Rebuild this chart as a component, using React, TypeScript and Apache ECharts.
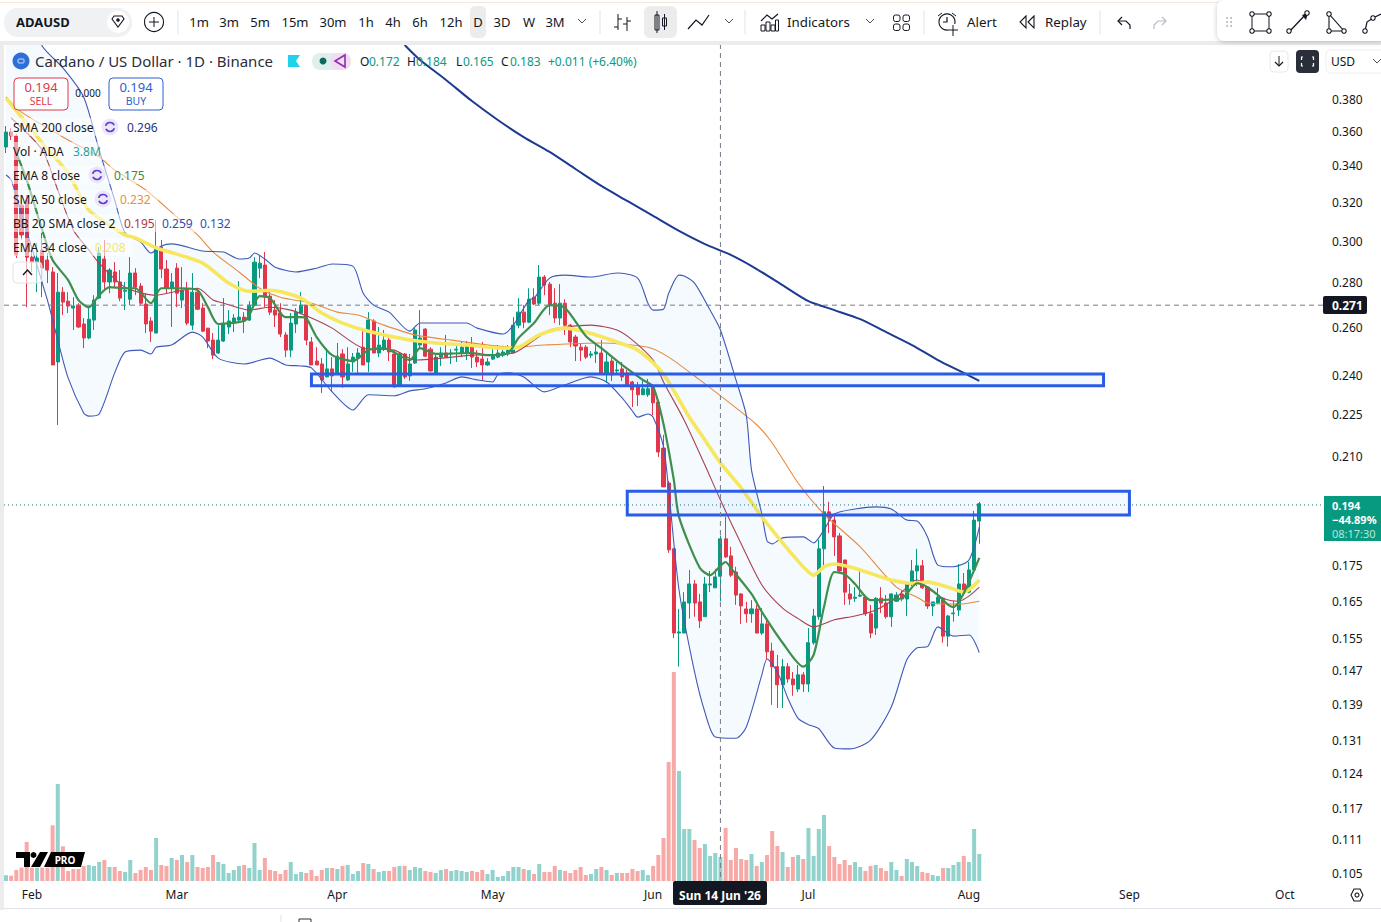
import React, { useEffect, useRef } from "react";
import * as echarts from "echarts";

const FONT = '"Noto Sans", sans-serif';
const DAY_SLOTS = 254;

// [open, high, low, close] per day
const ohlcJanFeb = [
  [.3509,.3633,.3474,.3597],[.3597,.3621,.3550,.3574],[.3574,.3585,.2918,.2932],[.3186,.3213,.3007,.3032],[.3213,.3240,.2689,.2922],
  [.2922,.2957,.2850,.2898],[.2898,.2992,.2757,.2918],[.2957,.3042,.2734,.2870],[.2908,.2942,.2799,.2860],[.2851,.2874,.2443,.2443],
  [.2455,.2846,.2211,.2757],[.2757,.2780,.2654,.2712],[.2716,.2757,.2663,.2694],[.2685,.2734,.2589,.2694],[.2698,.2707,.2598,.2602],
  [.2615,.2641,.2512,.2555],[.2555,.2685,.2550,.2636],[.2632,.2743,.2589,.2721],[.2730,.2972,.2725,.2942],[.2913,.3007,.2766,.2804],
  [.2804,.2869,.2752,.2860],[.2851,.2898,.2780,.2804],[.2804,.2860,.2716,.2730],[.2761,.2804,.2676,.2766],[.2725,.2922,.2698,.2846],
  [.2846,.2869,.2743,.2780],[.2785,.2799,.2698,.2707],[.2703,.2752,.2576,.2615],[.2628,.2645,.2538,.2584],[.2576,.3108,.2576,.2972],
  [.2972,.3007,.2822,.2865],[.2865,.2908,.2752,.2775],[.2775,.2846,.2602,.2804],
];
const ohlcMar = [
  [.2869,.2893,.2689,.2752],[.2721,.2874,.2685,.2766],[.2766,.2804,.2610,.2619],[.2610,.2846,.2589,.2757],[.2757,.2775,.2676,.2680],
  [.2685,.2707,.2580,.2584],[.2597,.2597,.2512,.2542],[.2546,.2576,.2467,.2483],[.2492,.2610,.2488,.2546],[.2542,.2730,.2538,.2619],
  [.2602,.2676,.2572,.2628],[.2619,.2658,.2580,.2641],[.2632,.2808,.2628,.2645],[.2645,.2667,.2576,.2628],[.2632,.2716,.2628,.2698],
  [.2698,.2922,.2694,.2898],[.2869,.2932,.2822,.2893],[.2884,.2947,.2689,.2734],[.2739,.2757,.2654,.2667],[.2676,.2721,.2602,.2654],
  [.2663,.2707,.2559,.2572],[.2568,.2580,.2475,.2504],[.2504,.2663,.2475,.2619],[.2615,.2685,.2576,.2667],[.2663,.2757,.2658,.2698],
  [.2698,.2698,.2525,.2546],[.2538,.2559,.2443,.2443],[.2459,.2516,.2443,.2443],[.2447,.2471,.2332,.2383],[.2395,.2512,.2395,.2427],
  [.2427,.2475,.2336,.2399],
];
const ohlcApr = [
  [.2411,.2534,.2403,.2479],[.2488,.2508,.2352,.2395],[.2383,.2516,.2379,.2447],[.2455,.2492,.2415,.2475],[.2471,.2512,.2403,.2492],
  [.2516,.2597,.2443,.2443],[.2455,.2667,.2415,.2632],[.2628,.2636,.2492,.2492],[.2492,.2602,.2475,.2525],[.2512,.2589,.2500,.2546],
  [.2546,.2555,.2459,.2496],[.2488,.2504,.2352,.2356],[.2360,.2492,.2356,.2488],[.2488,.2492,.2387,.2395],[.2399,.2488,.2379,.2447],
  [.2451,.2597,.2447,.2589],[.2525,.2676,.2512,.2555],[.2593,.2597,.2475,.2479],[.2508,.2516,.2415,.2419],[.2411,.2492,.2407,.2475],
  [.2475,.2516,.2439,.2492],[.2492,.2568,.2475,.2475],[.2488,.2508,.2447,.2492],[.2504,.2529,.2455,.2508],[.2492,.2538,.2475,.2516],
  [.2492,.2542,.2463,.2525],[.2525,.2559,.2431,.2475],[.2475,.2504,.2435,.2455],[.2467,.2538,.2379,.2443],[.2443,.2471,.2439,.2455],
];
const ohlcMay = [
  [.2467,.2508,.2463,.2479],[.2475,.2525,.2471,.2492],[.2483,.2516,.2475,.2496],[.2488,.2525,.2479,.2504],[.2492,.2645,.2492,.2610],
  [.2610,.2730,.2597,.2667],[.2667,.2698,.2597,.2623],[.2623,.2775,.2619,.2725],[.2734,.2775,.2698,.2703],[.2707,.2884,.2698,.2827],
  [.2827,.2836,.2743,.2789],[.2794,.2804,.2654,.2698],[.2707,.2775,.2619,.2641],[.2641,.2794,.2610,.2707],[.2707,.2725,.2568,.2610],
  [.2610,.2615,.2516,.2538],[.2559,.2568,.2459,.2521],[.2516,.2534,.2459,.2504],[.2516,.2525,.2467,.2475],[.2483,.2500,.2471,.2488],
  [.2488,.2525,.2451,.2496],[.2492,.2546,.2411,.2411],[.2411,.2492,.2371,.2455],[.2459,.2471,.2379,.2403],[.2419,.2455,.2403,.2423],
  [.2427,.2455,.2379,.2395],[.2411,.2423,.2360,.2364],[.2375,.2379,.2278,.2344],[.2360,.2375,.2282,.2325],[.2325,.2379,.2325,.2348],
  [.2325,.2387,.2317,.2348],
];
const ohlcJun = [
  [.2360,.2367,.2248,.2294],[.2297,.2305,.2097,.2114],[.2128,.2175,.1995,.1995],[.2008,.2015,.1788,.1797],[.1800,.1803,.1552,.1565],
  [.1565,.1629,.1480,.1568],[.1565,.1675,.1565,.1648],[.1645,.1738,.1603,.1698],[.1698,.1709,.1608,.1645],[.1648,.1670,.1578,.1597],
  [.1608,.1718,.1608,.1698],[.1695,.1735,.1675,.1698],[.1687,.1741,.1687,.1718],[.1720,.1840,.1650,.1830],[.1830,.1898,.1773,.1776],
  [.1779,.1806,.1718,.1723],[.1732,.1747,.1640,.1667],[.1670,.1672,.1589,.1637],[.1629,.1648,.1592,.1616],[.1616,.1653,.1592,.1629],
  [.1629,.1640,.1565,.1565],[.1565,.1631,.1560,.1589],[.1589,.1600,.1499,.1517],[.1519,.1540,.1389,.1480],[.1480,.1509,.1382,.1436],
  [.1436,.1499,.1382,.1480],[.1480,.1489,.1441,.1450],[.1450,.1467,.1410,.1436],[.1426,.1484,.1419,.1460],[.1460,.1467,.1419,.1438],
];
const ohlcJul = [
  [.1438,.1578,.1419,.1540],[.1540,.1629,.1535,.1610],[.1608,.1827,.1600,.1800],[.1800,.1998,.1750,.1914],[.1914,.1946,.1848,.1894],
  [.1888,.1904,.1779,.1836],[.1839,.1848,.1732,.1735],[.1767,.1767,.1640,.1675],[.1670,.1698,.1640,.1656],[.1658,.1689,.1648,.1661],
  [.1664,.1735,.1661,.1667],[.1661,.1661,.1610,.1616],[.1616,.1640,.1552,.1565],[.1578,.1661,.1560,.1658],[.1658,.1689,.1618,.1645],
  [.1645,.1667,.1603,.1608],[.1608,.1672,.1581,.1670],[.1650,.1675,.1648,.1667],[.1670,.1681,.1650,.1656],[.1656,.1703,.1610,.1698],
  [.1698,.1767,.1692,.1735],[.1735,.1800,.1692,.1750],[.1750,.1767,.1684,.1687],[.1689,.1692,.1629,.1637],[.1637,.1648,.1610,.1648],
  [.1645,.1687,.1642,.1661],[.1658,.1661,.1540,.1557],[.1557,.1613,.1530,.1610],[.1616,.1651,.1595,.1618],[.1626,.1755,.1610,.1698],
  [.1698,.1729,.1672,.1675],
];
const ohlcAug = [[.1675,.1761,.1672,.1738],[.1738,.1917,.1729,.1888],[.1885,.1946,.1815,.1940]];
const ohlc = [...ohlcJanFeb, ...ohlcMar, ...ohlcApr, ...ohlcMay, ...ohlcJun, ...ohlcJul, ...ohlcAug];

// volume, relative bar heights as read (81 = 3.8M)
const volumes = [
  17,16,33,40,117,40,40,40,40,167,291,104,30,36,36,45,48,45,57,63,42,42,30,27,63,24,33,42,33,129,48,45,69,63,78,57,78,42,39,42,78,57,51,24,33,45,48,39,114,33,
  69,33,30,21,33,57,21,27,24,33,15,33,39,39,36,45,48,21,30,54,51,36,27,30,30,42,45,45,33,42,39,30,27,24,33,36,30,33,30,27,30,27,33,21,33,12,15,30,42,42,
  36,33,21,51,27,27,45,33,30,24,33,42,18,21,36,42,33,18,24,24,24,36,30,33,18,45,78,129,357,627,330,156,156,123,99,111,75,84,72,159,63,99,66,63,81,45,57,78,150,105,
  87,42,72,78,66,159,75,156,198,105,72,51,63,48,57,42,30,45,48,39,30,57,33,15,66,57,45,27,24,18,15,39,39,48,57,75,57,156,81,
];
const fallingVolumeDays = [
  1,2,3,4,5,7,8,9,11,12,13,14,15,19,21,22,25,26,27,28,30,31,33,35,37,38,39,40,46,50,51,52,53,54,58,59,60,61,63,65,69,71,74,75,77,81,82,85,90,91,92,
  100,102,104,105,106,108,109,110,111,112,115,117,119,120,121,122,125,126,127,128,129,133,134,139,140,141,142,143,145,147,148,149,151,152,154,159,160,161,162,163,166,167,169,170,173,177,178,181,185,
];

const sma200 = [[77,.4157],[80,.4054],[85,.3922],[90,.3787],[95,.3670],[100,.3567],[105,.3480],[110,.3383],[115,.3289],[120,.3208],[125,.3129],[130,.3052],[135,.2986],[140,.2933],[145,.2865],[150,.2789],[155,.2716],[160,.2676],[165,.2636],[170,.2580],[175,.2525],[180,.2463],[185,.2411],[188,.2379]];
const bbUpper = [[0,.4708],[7,.4150],[11,.4001],[15,.3813],[18,.3491],[21,.3213],[23,.3042],[26,.2997],[28,.2942],[30,.2977],[32,.2987],[38,.2952],[42,.2947],[45,.2913],[47,.2918],[48,.2942],[50,.2913],[52,.2874],[56,.2851],[60,.2869],[63,.2889],[67,.2879],[69,.2752],[71,.2698],[74,.2667],[78,.2584],[80,.2619],[89,.2619],[91,.2597],[96,.2572],[98,.2610],[101,.2721],[102,.2730],[105,.2822],[108,.2836],[113,.2827],[118,.2846],[122,.2822],[124,.2707],[125,.2676],[127,.2680],[128,.2752],[130,.2836],[131,.2832],[133,.2799],[136,.2676],[138,.2589],[141,.2383],[143,.2246],[144,.2052],[146,.1907],[147,.1824],[148,.1815],[150,.1833],[154,.1836],[156,.1818],[158,.1857],[160,.1907],[164,.1923],[168,.1930],[171,.1923],[174,.1888],[176,.1885],[178,.1836],[180,.1752],[183,.1747],[186,.1767],[188,.1866]];
const bbLower = [[0,.3349],[1,.3322],[2,.3229],[8,.2721],[10,.2546],[12,.2391],[15,.2256],[16,.2244],[18,.2252],[21,.2411],[23,.2496],[26,.2504],[28,.2488],[29,.2516],[32,.2525],[36,.2580],[38,.2559],[41,.2471],[46,.2447],[51,.2471],[54,.2443],[57,.2439],[59,.2431],[63,.2336],[67,.2267],[70,.2325],[75,.2321],[78,.2340],[81,.2348],[85,.2371],[88,.2395],[91,.2383],[94,.2375],[95,.2403],[97,.2411],[100,.2395],[104,.2336],[108,.2364],[113,.2395],[116,.2375],[119,.2313],[121,.2263],[122,.2240],[124,.2252],[125,.2240],[127,.2132],[128,.1985],[130,.1681],[133,.1467],[135,.1372],[137,.1317],[141,.1314],[143,.1339],[146,.1460],[147,.1499],[149,.1467],[151,.1405],[153,.1358],[155,.1344],[157,.1335],[160,.1293],[163,.1291],[167,.1310],[171,.1384],[174,.1497],[176,.1527],[178,.1530],[180,.1581],[183,.1557],[186,.1560],[188,.1515]];
const bbBasis = [[1,.3682],[7,.3491],[10,.3267],[13,.3057],[16,.2957],[18,.2893],[23,.2780],[29,.2743],[33,.2761],[37,.2775],[40,.2721],[42,.2707],[47,.2676],[51,.2689],[55,.2676],[59,.2641],[63,.2597],[69,.2512],[75,.2504],[79,.2463],[90,.2483],[98,.2492],[102,.2546],[105,.2589],[108,.2602],[113,.2610],[118,.2589],[121,.2546],[125,.2463],[127,.2375],[131,.2229],[135,.2069],[138,.1952],[142,.1815],[146,.1695],[150,.1631],[153,.1603],[156,.1581],[160,.1600],[164,.1610],[168,.1626],[172,.1661],[175,.1703],[176,.1709],[178,.1687],[181,.1658],[184,.1650],[186,.1664],[188,.1689]];
const ema8 = [[2,.3474],[4,.3322],[7,.3057],[9,.2908],[12,.2813],[14,.2721],[16,.2689],[18,.2743],[20,.2780],[23,.2775],[25,.2775],[28,.2707],[30,.2775],[34,.2775],[37,.2766],[39,.2689],[41,.2615],[46,.2628],[47,.2654],[49,.2739],[51,.2730],[54,.2645],[57,.2645],[58,.2641],[60,.2559],[63,.2483],[67,.2459],[70,.2504],[73,.2512],[78,.2463],[80,.2512],[83,.2488],[90,.2492],[93,.2483],[97,.2492],[99,.2555],[102,.2619],[105,.2698],[108,.2685],[112,.2563],[115,.2512],[119,.2443],[123,.2383],[125,.2356],[127,.2215],[129,.2018],[130,.1898],[134,.1744],[136,.1723],[138,.1750],[139,.1761],[140,.1744],[144,.1670],[146,.1621],[150,.1540],[154,.1480],[156,.1509],[158,.1634],[160,.1732],[162,.1726],[164,.1698],[167,.1653],[173,.1658],[176,.1700],[178,.1689],[180,.1667],[182,.1640],[183,.1634],[185,.1672],[188,.1773]];
const sma50 = [[0,.3813],[3,.3718],[12,.3550],[18,.3451],[21,.3377],[27,.3267],[33,.3124],[37,.3032],[40,.2947],[45,.2851],[49,.2775],[53,.2734],[59,.2707],[64,.2667],[68,.2654],[73,.2610],[79,.2568],[86,.2546],[98,.2516],[104,.2525],[115,.2534],[124,.2516],[128,.2475],[134,.2383],[140,.2290],[145,.2212],[148,.2146],[153,.2008],[158,.1907],[165,.1806],[172,.1689],[176,.1661],[178,.1645],[184,.1642],[188,.1650]];
const ema34 = [[0,.3806],[3,.3688],[7,.3532],[12,.3360],[16,.3160],[23,.3032],[25,.3017],[29,.2967],[31,.2952],[38,.2893],[43,.2799],[47,.2761],[51,.2766],[57,.2730],[61,.2663],[65,.2619],[70,.2584],[78,.2546],[83,.2534],[89,.2525],[96,.2512],[99,.2516],[103,.2568],[108,.2597],[112,.2580],[118,.2538],[122,.2504],[126,.2431],[128,.2375],[132,.2240],[135,.2157],[138,.2076],[142,.1992],[146,.1898],[150,.1818],[154,.1747],[156,.1723],[158,.1747],[160,.1755],[165,.1738],[171,.1709],[175,.1700],[178,.1703],[182,.1689],[185,.1675],[188,.1709]];

const zones = [[59,212,.2407,.2360],[120,217,.1981,.1904]];
const priceTicks = [.38,.36,.34,.32,.30,.28,.26,.24,.225,.21,.175,.165,.155,.147,.139,.131,.124,.117,.111,.105];
const monthLabels = ["Feb","Mar","Apr","May","Jun","Jul","Aug","Sep","Oct"];
const monthSlots = [5,33,64,94,125,155,186,217,247];
const crossPrice = 0.2698;
const crossSlot = 138;
const lastPrice = 0.1936;

const slotNames = Array.from({ length: DAY_SLOTS }, (_, i) => new Date(Date.UTC(2026, 0, 27 + i)).toISOString().slice(0, 10));
const fallingSet = new Set(fallingVolumeDays);

const INK = "#131722";
const txt = (x: number, y: number, text: string, fill = INK, size = 12, weight = "normal", align = "left", z = 20) => ({
  type: "text", x, y, z,
  style: { text, fill, font: `${weight} ${size}px ${FONT}`, textAlign: align, textVerticalAlign: "middle", align, verticalAlign: "middle" },
});
const ln = (x1: number, y1: number, x2: number, y2: number, stroke = INK, lineWidth = 1, z = 20) => ({
  type: "line", z, shape: { x1, y1, x2, y2 }, style: { stroke, lineWidth },
});
const pl = (points: number[][], stroke = INK, lineWidth = 1.2, z = 20) => ({
  type: "polyline", z, shape: { points }, style: { stroke, lineWidth, fill: "none" },
});
const box = (x: number, y: number, width: number, height: number, fill: string, stroke = "none", r = 0, z = 19, lineWidth = 1) => ({
  type: "rect", z, shape: { x, y, width, height, r }, style: { fill, stroke, lineWidth },
});
const circ = (cx: number, cy: number, r: number, fill: string, stroke = "none", z = 20, lineWidth = 1.1) => ({
  type: "circle", z, shape: { cx, cy, r }, style: { fill, stroke, lineWidth },
});
const poly = (points: number[][], fill: string, stroke = "none", z = 20, lineWidth = 1.1) => ({
  type: "polygon", z, shape: { points }, style: { fill, stroke, lineWidth },
});
const chev = (x: number, y: number) => pl([[x - 4, y - 2], [x, y + 2], [x + 4, y - 2]], "#4a4e5a", 1);

function chrome() {
  const g: any[] = [];
  g.push(box(0, 0, 1381, 44, "#ffffff", "none", 0, 15));
  g.push(box(0, 2, 1381, 1, "#f8e6d8", "none", 0, 16));
  g.push(box(0, 41, 1381, 4, "#ececec", "none", 0, 16));
  g.push(box(0, 44, 4, 866, "#ececec", "none", 0, 16));
  g.push(box(4, 908, 1377, 1, "#e0e3eb", "none", 0, 16));
  g.push(box(4, 909, 1377, 13, "#ffffff", "none", 0, 15));
  g.push(ln(281, 915, 281, 922, "#e0e3eb"));
  g.push(pl([[299, 922], [299, 919], [311, 919], [311, 922]], "#333", 1));
  g.push(box(4, 8, 128, 29, "#f0f1f3", "none", 14));
  g.push(txt(16, 22, "ADAUSD", INK, 13, "bold"));
  g.push(circ(118, 22, 11, "#ffffff"));
  g.push(poly([[112, 19], [114, 16], [122, 16], [124, 19], [118, 27]], "none", INK));
  g.push(circ(118, 20, 1.8, INK));
  g.push(circ(154, 22, 9.5, "none", INK));
  g.push(ln(149, 22, 159, 22), ln(154, 17, 154, 27));
  g.push(ln(178, 10, 178, 34, "#e0e3eb"));
  g.push(box(470, 6, 16, 32, "#ececec", "none", 5));
  const intervals: [string, number][] = [["1m",199],["3m",229],["5m",260],["15m",295],["30m",333],["1h",366],["4h",393],["6h",420],["12h",451],["D",478],["3D",502],["W",529],["3M",555]];
  intervals.forEach(([t, x]) => g.push(txt(x, 22, t, INK, 13, "normal", "center")));
  g.push(chev(582, 21));
  g.push(ln(600, 10, 600, 34, "#e0e3eb"));
  g.push(ln(618, 14, 618, 30), ln(614, 27, 618, 27), ln(618, 19, 622, 19));
  g.push(ln(627, 17, 627, 31), ln(623, 24, 627, 24), ln(627, 21, 631, 21));
  g.push(box(644, 6, 33, 32, "#ececec", "none", 6));
  g.push(box(655, 15, 4, 15, "none", INK, 0, 20), ln(657, 11, 657, 33));
  g.push(box(662.5, 18, 4, 8, "none", INK, 0, 20), ln(664.5, 14, 664.5, 30));
  g.push(pl([[688, 29], [696, 20], [702, 25], [709, 15]]));
  g.push(chev(729, 21));
  g.push(ln(745, 10, 745, 34, "#e0e3eb"));
  g.push(pl([[761, 21], [767, 15], [772, 19], [778, 14]]));
  g.push(box(761, 25, 4, 6, "none", INK, 0, 20), box(766, 22, 4, 9, "none", INK, 0, 20), box(771, 25, 4, 6, "none", INK, 0, 20), box(775.5, 20, 3, 11, "none", INK, 0, 20));
  g.push(txt(787, 22, "Indicators", INK, 13.3));
  g.push(chev(870, 21));
  g.push(box(893.5, 15, 6.5, 6.5, "none", INK, 2, 20), box(903, 15, 6.5, 6.5, "none", INK, 2, 20), box(893.5, 24, 6.5, 6.5, "none", INK, 2, 20), box(903, 24, 6.5, 6.5, "none", INK, 2, 20));
  g.push(ln(924, 10, 924, 34, "#e0e3eb"));
  g.push(circ(947, 22, 8, "#fff", INK));
  g.push(pl([[947, 17], [947, 22], [943, 22]]));
  g.push(ln(942, 13, 938, 16), ln(952, 13, 956, 16));
  g.push(box(948, 24, 10, 10, "#fff", "none", 0, 20), ln(953, 25, 953, 36), ln(948, 30, 958, 30));
  g.push(txt(967, 22, "Alert", INK, 13.3));
  g.push(poly([[1026, 16], [1020, 22], [1026, 28]], "none", INK), poly([[1034, 16], [1028, 22], [1034, 28]], "none", INK));
  g.push(txt(1045, 22, "Replay", INK, 13.3));
  g.push(ln(1100, 10, 1100, 34, "#e0e3eb"));
  g.push(pl([[1122, 17], [1118, 21], [1122, 25]]), pl([[1118, 21], [1126, 21], [1130, 25], [1130, 29]]));
  g.push(pl([[1162, 17], [1166, 21], [1162, 25]], "#b8bbc4"), pl([[1166, 21], [1158, 21], [1154, 25], [1154, 29]], "#b8bbc4"));
  g.push({ ...box(1217, 0, 170, 41, "#ffffff", "none", 8, 21), style: { fill: "#ffffff", shadowBlur: 5, shadowColor: "rgba(0,0,0,.22)", shadowOffsetY: 1 } });
  [[1227, 18], [1231, 18], [1227, 22], [1231, 22], [1227, 26], [1231, 26]].forEach(([x, y]) => g.push(circ(x, y, 1, "#b8bbc4", "none", 22)));
  g.push(box(1252, 14, 17, 17, "none", INK, 0, 22));
  [[1252, 14], [1269, 14], [1252, 31], [1269, 31]].forEach(([x, y]) => g.push(circ(x, y, 2.2, "#fff", INK, 23)));
  g.push(ln(1290, 31, 1306, 14, INK, 1.3, 22), poly([[1302, 15], [1308, 13], [1306, 20]], INK, "none", 22));
  g.push(circ(1289, 31, 2.2, "#fff", INK, 23), circ(1307, 13, 2.2, "#fff", INK, 23));
  g.push(poly([[1329, 14], [1329, 31], [1344, 31]], "none", INK, 22));
  g.push(circ(1329, 14, 2.2, "#fff", INK, 23), circ(1329, 31, 2.2, "#fff", INK, 23), circ(1344, 31, 2.2, "#fff", INK, 23));
  g.push(pl([[1365, 31], [1367, 22], [1373, 18], [1381, 14]], INK, 1.2, 22), circ(1365, 31, 2.2, "#fff", INK, 23), circ(1373, 18, 2.2, "#fff", INK, 23));
  g.push(circ(21, 61, 8.5, "#2e6fd8"));
  g.push(box(18, 59, 6, 4, "none", "#cfe0fb", 1, 21));
  g.push(txt(35, 61, "Cardano / US Dollar · 1D · Binance", "#2a2e39", 15));
  g.push(poly([[288, 55], [300, 55], [296, 61], [300, 67], [288, 67]], "#1fd3ea"));
  g.push(box(312, 53, 39, 17, "#dff0ec", "none", 8));
  g.push(box(330, 53, 21, 17, "#f0ddf2", "none", 8, 19));
  g.push(circ(323, 61, 3.5, "#0b6b5c"));
  g.push(poly([[345, 55], [335, 61], [345, 67]], "none", "#8c2fb0", 21, 1.6));
  const TEAL = "#089981";
  const ohlcText: [string, string, number][] = [["O", "0.172", 360], ["H", "0.184", 407], ["L", "0.165", 456], ["C", "0.183", 501]];
  ohlcText.forEach(([k, v, x]) => { g.push(txt(x, 61, k, INK, 12)); g.push(txt(x + (k === "L" ? 7 : 9), 61, v, TEAL, 12)); });
  g.push(txt(548, 61, "+0.011 (+6.40%)", TEAL, 12));
  g.push(box(14, 78, 54, 32, "rgba(255,255,255,.9)", "#e0394a", 4));
  g.push(txt(41, 87, "0.194", "#e0394a", 13, "normal", "center"), txt(41, 101, "SELL", "#e0394a", 10.5, "normal", "center"));
  g.push(txt(88, 93, "0.000", INK, 10, "normal", "center"));
  g.push(box(109, 78, 54, 32, "rgba(255,255,255,.9)", "#2d5fd0", 4));
  g.push(txt(136, 87, "0.194", "#2d5fd0", 13, "normal", "center"), txt(136, 101, "BUY", "#2d5fd0", 10.5, "normal", "center"));
  const cycle = (cx: number, cy: number) => {
    g.push(circ(cx, cy, 8.5, "#ece6f7"));
    g.push({ type: "arc", z: 21, shape: { cx, cy, r: 4.5, startAngle: 0.3, endAngle: 2.7 }, style: { stroke: "#5b3bd6", lineWidth: 1.6, fill: "none" } });
    g.push({ type: "arc", z: 21, shape: { cx, cy, r: 4.5, startAngle: 3.4, endAngle: 5.9 }, style: { stroke: "#5b3bd6", lineWidth: 1.6, fill: "none" } });
  };
  g.push(box(10, 118, 155, 18, "rgba(255,255,255,.55)"));
  g.push(box(10, 142, 95, 18, "rgba(255,255,255,.55)"));
  g.push(box(10, 166, 142, 18, "rgba(255,255,255,.55)"));
  g.push(box(10, 190, 148, 18, "rgba(255,255,255,.55)"));
  g.push(box(10, 214, 226, 18, "rgba(255,255,255,.55)"));
  g.push(box(10, 238, 122, 18, "rgba(255,255,255,.55)"));
  g.push(txt(13, 127, "SMA 200 close"), txt(127, 127, "0.296", "#27357f"));
  cycle(110, 127);
  g.push(txt(13, 151, "Vol · ADA"), txt(73, 151, "3.8M", "#26a69a"));
  g.push(txt(13, 175, "EMA 8 close"), txt(114, 175, "0.175", "#43893f"));
  cycle(97, 175);
  g.push(txt(13, 199, "SMA 50 close"), txt(120, 199, "0.232", "#e8923a"));
  cycle(103, 199);
  g.push(txt(13, 223, "BB 20 SMA close 2"), txt(124, 223, "0.195", "#b0344a"), txt(162, 223, "0.259", "#2e4fb0"), txt(200, 223, "0.132", "#2e4fb0"));
  g.push(txt(13, 247, "EMA 34 close"), txt(95, 247, "0.208", "#f7e85f"));
  g.push(box(13, 262, 29, 21, "rgba(255,255,255,.6)", "#e0e3eb", 4));
  g.push(pl([[23, 275], [27.5, 270], [32, 275]], INK, 1.4));
  g.push(box(1270, 51, 18, 21, "#fff", "#e6e8ee", 4));
  g.push(ln(1279, 56, 1279, 66), pl([[1275, 62], [1279, 66], [1283, 62]]));
  g.push(box(1296, 50, 23, 23, "#2a2e39", "none", 4));
  g.push(pl([[1303, 57], [1301.5, 57], [1301.5, 60]], "#fff"), pl([[1312, 57], [1313.5, 57], [1313.5, 60]], "#fff"));
  g.push(pl([[1303, 66], [1301.5, 66], [1301.5, 63]], "#fff"), pl([[1312, 66], [1313.5, 66], [1313.5, 63]], "#fff"));
  g.push(box(1326, 50, 60, 23, "#fff", "#eceef2", 4));
  g.push(txt(1331, 61, "USD", INK, 12));
  g.push(chev(1377, 61));
  g.push(box(1323, 296, 44, 18, "#131722", "none", 2));
  g.push(txt(1332, 305, "0.271", "#ffffff", 12, "bold"));
  g.push(box(1324, 496, 57, 45, "#089981", "none", 0));
  g.push(txt(1332, 505, "0.194", "#ffffff", 11, "bold"), txt(1332, 519, "−44.89%", "#ffffff", 11, "bold"), txt(1332, 533, "08:17:30", "#b4e6dc", 11));
  g.push(box(673, 881, 94, 24, "#131722", "none", 2));
  g.push(txt(720, 895, "Sun 14 Jun '26", "#ffffff", 12, "bold", "center"));
  g.push(poly([[1351, 895], [1354, 889], [1360, 889], [1363, 895], [1360, 901], [1354, 901]], "none", INK));
  g.push(circ(1357, 895, 2, "none", INK));
  g.push(poly([[16, 852], [30, 852], [30, 867], [24, 867], [24, 858], [16, 858]], "#000"));
  g.push(circ(33.5, 855, 3, "#000"));
  g.push(poly([[40, 852], [48, 852], [40, 867], [31, 867]], "#000"));
  g.push(poly([[51, 852], [85, 852], [81, 867], [44, 867]], "#000"));
  g.push(txt(65, 860, "PRO", "#ffffff", 10, "bold", "center", 21));
  return g;
}

const lineSeries = (name: string, data: number[][], color: string, width: number, z: number) => ({
  name, type: "line", xAxisIndex: 0, yAxisIndex: 0, data, showSymbol: false, symbol: "none", smooth: 0.25, z,
  lineStyle: { color, width }, silent: true,
});

export default function App() {
  const ref = useRef<HTMLDivElement>(null);
  useEffect(() => {
    document.body.style.margin = "0";
    const chart = echarts.init(ref.current!, undefined, { renderer: "svg" });
    const gridTop = 44, gridBottomY = 885;
    const pMax = 0.38 * Math.exp(55 / 602), pMin = 0.38 * Math.exp(-786 / 602);
    chart.setOption({
      animation: false,
      backgroundColor: "#ffffff",
      grid: [
        { left: 3.4, top: gridTop, width: 1315, height: gridBottomY - gridTop },
        { left: 3.4, top: 672, width: 1315, height: 209 },
      ],
      xAxis: [
        {
          type: "category", gridIndex: 0, data: slotNames, boundaryGap: true,
          axisLine: { show: false }, axisTick: { show: false }, splitLine: { show: false },
          axisLabel: {
            interval: (i: number) => monthSlots.includes(i),
            formatter: (_: string, i: number) => monthLabels[monthSlots.indexOf(i)] ?? "",
            color: INK, fontFamily: FONT, fontSize: 12, margin: 3,
          },
        },
        { type: "category", gridIndex: 1, data: slotNames, boundaryGap: true, axisLine: { show: false }, axisTick: { show: false }, axisLabel: { show: false }, splitLine: { show: false } },
      ],
      yAxis: [
        { type: "log", gridIndex: 0, logBase: 10, min: pMin, max: pMax, position: "right", axisLine: { show: false }, axisTick: { show: false }, axisLabel: { show: false }, splitLine: { show: false } },
        { type: "value", gridIndex: 1, min: 0, max: 627, axisLine: { show: false }, axisTick: { show: false }, axisLabel: { show: false }, splitLine: { show: false } },
      ],
      series: [
        {
          name: "Vol", type: "bar", xAxisIndex: 1, yAxisIndex: 1, barWidth: 4, z: 1, silent: true,
          data: volumes.map((v, i) => ({ value: v, itemStyle: { color: fallingSet.has(i) ? "#f7a9a7" : "#92d2cc" } })),
        },
        {
          name: "BB band", type: "custom", xAxisIndex: 0, yAxisIndex: 0, z: 1, clip: true, silent: true, data: [[0, 0.2]],
          renderItem: (_: any, api: any) => ({
            type: "polygon",
            shape: { points: [...bbUpper, ...[...bbLower].reverse()].map((p) => api.coord(p)) },
            style: { fill: "rgba(33,150,243,0.05)", stroke: "none" },
          }),
        },
        {
          name: "ADAUSD", type: "candlestick", xAxisIndex: 0, yAxisIndex: 0, z: 3, barWidth: 3.6, silent: true,
          data: ohlc.map(([o, h, l, c]) => [o, c, l, h]),
          itemStyle: { color: "#089981", color0: "#e2364a", borderColor: "#089981", borderColor0: "#e2364a", borderWidth: 1 },
        },
        lineSeries("SMA 50", sma50, "#ea8a3e", 1.1, 4),
        lineSeries("BB basis", bbBasis, "#a8434f", 1.1, 4),
        lineSeries("BB upper", bbUpper, "#4059b8", 1.1, 4),
        lineSeries("BB lower", bbLower, "#4059b8", 1.1, 4),
        lineSeries("EMA 34", ema34, "#f6e75e", 3.6, 5),
        lineSeries("EMA 8", ema8, "#3f8f4c", 2.2, 6),
        lineSeries("SMA 200", sma200, "#1c3a92", 2, 6),
        {
          name: "Zones", type: "custom", xAxisIndex: 0, yAxisIndex: 0, z: 7, silent: true, data: zones, encode: { x: [0, 1], y: [2, 3] },
          renderItem: (_: any, api: any) => {
            const a = api.coord([api.value(0), api.value(2)]);
            const b = api.coord([api.value(1), api.value(3)]);
            return {
              type: "rect", shape: { x: a[0], y: a[1], width: b[0] - a[0], height: b[1] - a[1] },
              style: { fill: "rgba(41,98,255,0.045)", stroke: "#2a5ce6", lineWidth: 3 },
            };
          },
        },
        {
          name: "Price guides", type: "custom", xAxisIndex: 0, yAxisIndex: 0, z: 8, silent: true, clip: false,
          data: [[0, crossPrice], [0, lastPrice]],
          renderItem: (params: any, api: any) => {
            const y = api.coord([0, api.value(1)])[1];
            const last = params.dataIndex === 1;
            return {
              type: "line", shape: { x1: 4, y1: y, x2: 1323, y2: y },
              style: last ? { stroke: "#0b7f6c", lineWidth: 1, lineDash: [1, 3] } : { stroke: "#787b86", lineWidth: 1, lineDash: [5, 4] },
            };
          },
        },
        {
          name: "Time guide", type: "custom", xAxisIndex: 0, yAxisIndex: 0, z: 8, silent: true,
          data: [[crossSlot, crossPrice]],
          renderItem: (_: any, api: any) => {
            const x = api.coord([api.value(0), crossPrice])[0];
            return { type: "line", shape: { x1: x, y1: 44, x2: x, y2: 881 }, style: { stroke: "#787b86", lineWidth: 1, lineDash: [5, 4] } };
          },
        },
        {
          name: "Price ticks", type: "custom", xAxisIndex: 0, yAxisIndex: 0, z: 9, silent: true, clip: false,
          data: priceTicks.map((p) => [0, p]),
          renderItem: (_: any, api: any) => {
            const y = api.coord([0, api.value(1)])[1];
            return {
              type: "text", x: 1332, y,
              style: { text: api.value(1).toFixed(3), fill: INK, font: `12px ${FONT}`, textVerticalAlign: "middle", verticalAlign: "middle" },
            };
          },
        },
      ],
      graphic: { elements: chrome() },
    });
    return () => chart.dispose();
  }, []);
  return <div ref={ref} style={{ position: "absolute", left: 0, top: 0, width: 1381, height: 922, background: "#fff" }} />;
}
